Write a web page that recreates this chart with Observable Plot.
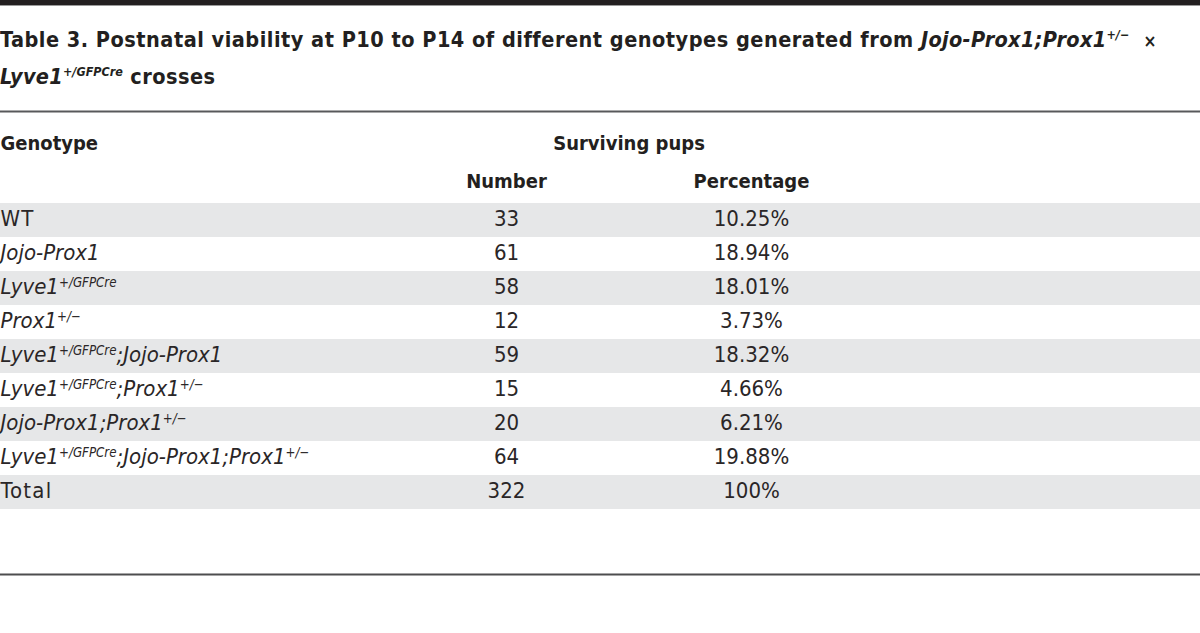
<!DOCTYPE html>
<html>
<head>
<meta charset="utf-8">
<script src="https://cdn.jsdelivr.net/npm/d3@7"></script>
<script src="https://cdn.jsdelivr.net/npm/@observablehq/plot@0.6"></script>
<style>
  html, body { margin: 0; padding: 0; background: #fff; width: 1200px; height: 633px; overflow: hidden; }
  body { font-family: "DejaVu Sans Condensed", "Liberation Sans Narrow", Roboto, sans-serif; color: #231f20; }
  #topbar { height: 5px; background: #231f20; border-bottom: 1px solid #9a9a9a; }
  #title { box-sizing: border-box; height: 94px; padding-top: 16px; padding-left: 0; font-size: 21.5px; font-weight: bold; line-height: 35px; letter-spacing: 0.5px; white-space: nowrap; }
  #title i { letter-spacing: 0.3px; }
  #title sup { font-size: 0.58em; vertical-align: 0; position: relative; top: -0.65em; line-height: 0; letter-spacing: 0; }
  #title .times { font-size: 0.8em; padding-left: 14px; }
  #chart svg { display: block; }
</style>
</head>
<body>
<div id="topbar"></div>
<div id="title"></div>
<div id="chart"></div>
<script>
// ---- data ----
const rowHeader = "Genotype";
const groupHeader = "Surviving pups";
const columns = ["Number", "Percentage"];
// "^...^" marks superscript segments
const genotypes = [
  "WT",
  "Jojo-Prox1",
  "Lyve1^+/GFPCre^",
  "Prox1^+/−^",
  "Lyve1^+/GFPCre^;Jojo-Prox1",
  "Lyve1^+/GFPCre^;Prox1^+/−^",
  "Jojo-Prox1;Prox1^+/−^",
  "Lyve1^+/GFPCre^;Jojo-Prox1;Prox1^+/−^",
  "Total"
];
const numbers = [33, 61, 58, 12, 59, 15, 20, 64, 322];
const percentages = ["10.25%", "18.94%", "18.01%", "3.73%", "18.32%", "4.66%", "6.21%", "19.88%", "100%"];
const italicRows = [false, true, true, true, true, true, true, true, false];
const titleHTML = 'Table 3. Postnatal viability at P10 to P14 of different genotypes generated from <i>Jojo-Prox1;Prox1<sup>+/−</sup></i><span class="times">×</span><br><i>Lyve1<sup>+/GFPCre</sup></i> crosses';

// ---- build ----
document.getElementById("title").innerHTML = titleHTML;

const rows = genotypes.map((g, i) => ({
  genotype: g,
  number: numbers[i],
  pct: percentages[i],
  italic: italicRows[i],
  shaded: i % 2 === 0
}));
const H1 = "__header1", H2 = "__header2";
const yDomain = [H1, H2, ...genotypes];
const colRange = [506, 751];
const textColor = "#231f20";
const bodyColor = "#2a2627";
const fs = 22;   // body
const hfs = 20;  // headers

const chart = Plot.plot({
  width: 1200,
  height: 533,
  marginTop: 11,
  marginBottom: 59,
  marginLeft: 0,
  marginRight: 0,
  style: { fontFamily: '"DejaVu Sans Condensed", "Liberation Sans Narrow", Roboto, sans-serif', fontSize: fs + "px", color: textColor, background: "transparent" },
  x: { type: "point", domain: columns, range: colRange, padding: 0, axis: null },
  y: { type: "band", domain: yDomain, range: [32.1, 411.5], padding: 0, axis: null },
  marks: [
    Plot.cell(rows.filter(d => d.shaded), { y: "genotype", fill: "#e6e7e8", inset: 0 }),
    Plot.frame({ anchor: "top", stroke: "#58595b", strokeWidth: 2 }),
    Plot.frame({ anchor: "bottom", stroke: "#4d4d4f", strokeWidth: 2 }),
    // headers
    Plot.text([rowHeader], { y: () => H1, text: d => d, frameAnchor: "left", textAnchor: "start", fontWeight: "bold", fontSize: hfs, fill: textColor, dy: -9 }),
    Plot.text([groupHeader], { x: () => columns[0], y: () => H1, text: d => d, dx: (colRange[1] - colRange[0]) / 2, fontWeight: "bold", fontSize: hfs, fill: textColor, dy: -9 }),
    Plot.text(columns, { x: d => d, y: () => H2, text: d => d, fontWeight: "bold", fontSize: hfs, fill: textColor, dy: -4.5 }),
    // body
    Plot.text(rows.filter(d => d.italic), { y: "genotype", text: "genotype", frameAnchor: "left", textAnchor: "start", fontStyle: "italic", fontSize: fs, fill: bodyColor, className: "geno", dy: -1.5 }),
    Plot.text(rows.filter(d => !d.italic), { y: "genotype", text: "genotype", frameAnchor: "left", textAnchor: "start", fontSize: fs, fill: bodyColor, className: "geno-plain", dy: -1.5 }),
    Plot.text(rows, { x: () => columns[0], y: "genotype", text: d => String(d.number), fontSize: fs, fill: bodyColor, dy: -1.5 }),
    Plot.text(rows, { x: () => columns[1], y: "genotype", text: "pct", fontSize: fs, fill: bodyColor, dy: -1.5 })
  ]
});

// plain genotype labels are slightly wider in the original typeface
chart.querySelectorAll("g.geno-plain").forEach(g => g.setAttribute("letter-spacing", "1.2"));

// convert ^...^ markup into superscript tspans
chart.querySelectorAll("g.geno text").forEach(t => {
  const s = t.textContent;
  if (!s.includes("^")) return;
  const parts = s.split("^");
  t.textContent = "";
  parts.forEach((p, i) => {
    if (!p) return;
    const ts = document.createElementNS("http://www.w3.org/2000/svg", "tspan");
    ts.textContent = p;
    if (i % 2 === 1) {
      ts.setAttribute("font-size", "0.6em");
      ts.setAttribute("baseline-shift", "55%");
    }
    t.appendChild(ts);
  });
});

document.getElementById("chart").appendChild(chart);
</script>
</body>
</html>
